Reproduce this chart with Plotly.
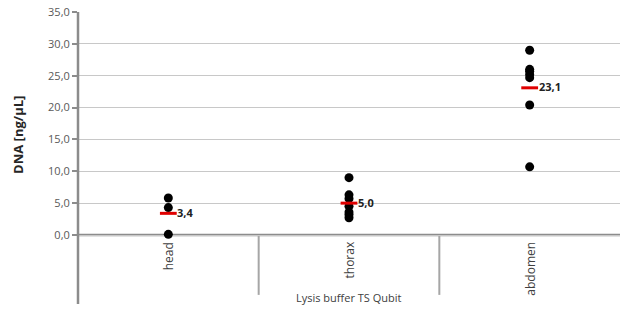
import plotly.graph_objects as go

categories = ["head", "thorax", "abdomen"]
head_vals = [5.8, 4.3, 0.1]
thorax_vals = [9.0, 6.3, 5.7, 4.5, 3.6, 3.2, 2.7]
abdomen_vals = [29.0, 26.0, 25.7, 25.2, 24.7, 20.4, 10.7]
series = [head_vals, thorax_vals, abdomen_vals]
y_ticks = [0, 5, 10, 15, 20, 25, 30, 35]
x_title = "Lysis buffer TS Qubit"
y_title = "DNA [ng/µL]"

means = [sum(v) / len(v) for v in series]

fig = go.Figure()
for cat, vals in zip(categories, series):
    fig.add_trace(go.Scatter(
        x=[cat] * len(vals), y=vals, mode="markers",
        marker=dict(color="black", size=9, symbol="circle"),
        showlegend=False, hoverinfo="y"))

fig.add_trace(go.Scatter(
    x=categories, y=means, mode="markers",
    marker=dict(symbol="line-ew", size=12, line=dict(color="#e00000", width=3)),
    showlegend=False))

font_fam = "Open Sans, Noto Sans, sans-serif"
annotations = []
for cat, m in zip(categories, means):
    annotations.append(dict(
        x=cat, y=m, xref="x", yref="y", text=f"<b>{m:.1f}".replace(".", ",") + "</b>",
        showarrow=False, xanchor="left", yanchor="middle", xshift=7, yshift=1,
        font=dict(size=11, color="#222222", family=font_fam)))
    annotations.append(dict(
        x=cat, y=0, xref="x", yref="y", text=cat, textangle=-90,
        showarrow=False, xanchor="center", yanchor="top", yshift=-5,
        font=dict(size=12, color="#404040", family=font_fam)))

annotations.append(dict(
    x=0.5, y=0, xref="paper", yref="paper", text=x_title, showarrow=False,
    xanchor="center", yanchor="bottom", yshift=-3,
    font=dict(size=11, color="#404040", family=font_fam)))
annotations.append(dict(
    x=-0.112, y=0.58, xref="paper", yref="paper", text=f"<b>{y_title}</b>",
    textangle=-90, showarrow=False, xanchor="center", yanchor="middle",
    font=dict(size=13, color="#262626", family=font_fam)))

ymin = -10.83
shapes = [
    dict(type="line", xref="paper", yref="y", x0=0, x1=1, y0=0, y1=0,
         line=dict(color="#8c8c8c", width=2.5), layer="below"),
    dict(type="line", xref="paper", yref="y", x0=0, x1=0, y0=ymin, y1=35,
         line=dict(color="#8c8c8c", width=2.5), layer="above"),
]
for xb in [0.5, 1.5]:
    shapes.append(dict(type="line", xref="x", yref="y", x0=xb, x1=xb, y0=0, y1=-9.4,
                       line=dict(color="#a6a6a6", width=2), layer="below"))

fig.update_layout(
    width=621, height=309,
    margin=dict(l=78, r=1, t=12, b=5),
    paper_bgcolor="white", plot_bgcolor="white",
    separators=", ",
    font=dict(family=font_fam, color="#404040"),
    xaxis=dict(range=[-0.5, 2.5], showticklabels=False, showgrid=False,
               zeroline=False, showline=False, ticks="", fixedrange=True,
               categoryorder="array", categoryarray=categories),
    yaxis=dict(range=[ymin, 35], tickvals=y_ticks, tickformat=".1f",
               showgrid=True, gridcolor="#c8c8c8", gridwidth=1,
               zeroline=False, showline=False, ticks="outside", ticklen=5,
               tickcolor="#8c8c8c", tickwidth=1.5,
               tickfont=dict(size=11, color="#595959", family=font_fam)),
    annotations=annotations, shapes=shapes,
)

fig.write_html("out.html", config={"displayModeBar": False},
               post_script="document.body.style.margin='0';")
